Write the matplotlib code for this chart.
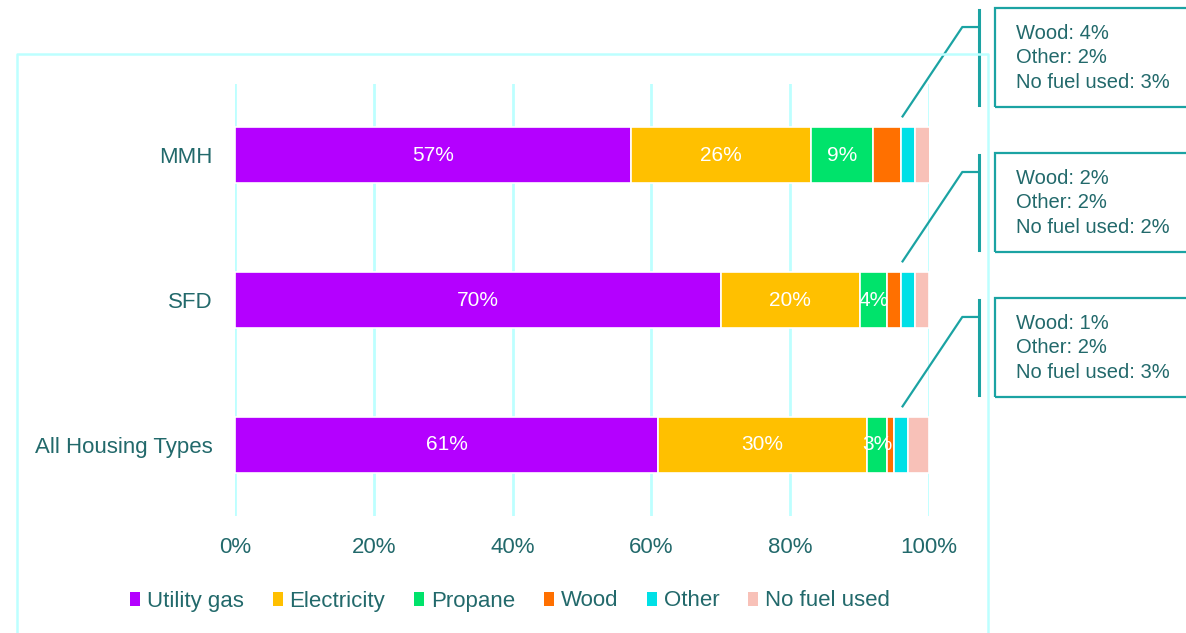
import matplotlib
matplotlib.use("Agg")
import matplotlib.pyplot as plt
from matplotlib.patches import Rectangle, Patch

plt.rcParams['font.family'] = ['Liberation Sans', 'DejaVu Sans']

# rows from bottom to top
housing = ["All Housing Types", "SFD", "MMH"]
fuels = ["Utility gas", "Electricity", "Propane", "Wood", "Other", "No fuel used"]
fuel_colors = ["#B400FF", "#FFC000", "#00E36B", "#FF7000", "#00E0E6", "#F8C1B8"]

utility_gas = [61, 70, 57]
electricity = [30, 20, 26]
propane = [3, 4, 9]
wood = [1, 2, 4]
other = [2, 2, 2]
no_fuel = [3, 2, 3]

text_color = "#22696B"
grid_color = "#BDFFFF"
callout_color = "#1BA3A3"

series = [utility_gas, electricity, propane, wood, other, no_fuel]

fig = plt.figure(figsize=(11.86, 6.33), dpi=100)
ax = fig.add_axes([235 / 1186, 117 / 633, 694 / 1186, 432 / 633])

left = [0] * len(housing)
for i, (name, vals, col) in enumerate(zip(fuels, series, fuel_colors)):
    bars = ax.barh(range(len(housing)), vals, left=left, height=0.38,
                   color=col, edgecolor="white", linewidth=1.2, label=name)
    # only the three large shares get a label inside the bar
    if i < 3:
        ax.bar_label(bars, labels=[f"{v}%" for v in vals], label_type="center",
                     color="white", fontsize=15)
    left = [a + b for a, b in zip(left, vals)]

ax.set_xlim(0, 100)
ax.set_ylim(-0.49, 2.49)
ax.set_xticks(range(0, 101, 20))
ax.set_xticklabels([f"{t}%" for t in range(0, 101, 20)])
ax.set_yticks(range(len(housing)))
ax.set_yticklabels(housing)
ax.tick_params(length=0, labelsize=16, labelcolor=text_color)
ax.tick_params(axis="x", pad=15)
ax.tick_params(axis="y", pad=16)
ax.grid(axis="x", color=grid_color, linewidth=2)
ax.set_axisbelow(True)
for s in ax.spines.values():
    s.set_visible(False)

# callouts for the small shares
for r in range(len(housing)):
    ax.plot([96.1, 104.8, 107.2], [r + 0.26, r + 0.883, r + 0.883],
            color=callout_color, lw=1.6, clip_on=False, solid_capstyle="butt")
    ax.plot([107.2, 107.2], [r + 0.345, r + 1.0], color=callout_color,
            lw=2.2, clip_on=False)
    ax.add_patch(Rectangle((109.5, r + 0.33), 40, 0.684, fill=False,
                           edgecolor=callout_color, lw=1.6, clip_on=False))
    ax.text(112.5, r + 0.67,
            f"Wood: {wood[r]}%\nOther: {other[r]}%\nNo fuel used: {no_fuel[r]}%",
            ha="left", va="center", fontsize=14.5, color=text_color,
            linespacing=1.35, clip_on=False)

# chart area border
bx0, bx1, by = 17 / 1186, 988 / 1186, 1 - 54 / 633
fig.add_artist(plt.Line2D([bx0, bx0, bx1, bx1], [0, by, by, 0],
                          color=grid_color, lw=1.8))

handles = [Patch(facecolor=c, edgecolor="none", label=n)
           for n, c in zip(fuels, fuel_colors)]
fig.legend(handles=handles, loc="center", bbox_to_anchor=(510 / 1186, 1 - 601 / 633),
           ncol=6, frameon=False, fontsize=16, labelcolor=text_color,
           handlelength=0.45, handleheight=0.6, handletextpad=0.3,
           columnspacing=1.3)

fig.savefig("out.png", dpi=100)
